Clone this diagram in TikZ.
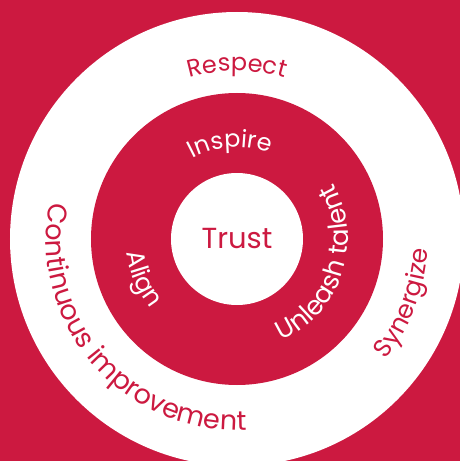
\documentclass[tikz,border=0pt]{standalone}
\usepackage{fontspec}
\setmainfont{Poppins}
\usepackage{tikz}
\usetikzlibrary{decorations.text}
\definecolor{crimson}{RGB}{204,25,64}
\newcommand{\ringfont}[1]{\fontsize{#1}{#1}\selectfont}

\begin{document}
\begin{tikzpicture}[x=1pt,y=1pt,
    every circle node/.style={inner sep=0pt, outer sep=0pt},
    ringtext/.style={decorate, decoration={text along path, text align=center, text={#1}}}]
        \fill[crimson] (-237,-222) rectangle (223,239);
        \useasboundingbox (-237,-222) rectangle (223,239);
        \draw (0, 0) node(outer)[circle, fill=white, minimum size=454pt]{};
        \draw (0, 0) node(inner)[circle, fill=crimson, minimum size=292pt]{};
        \draw (0, 0) node(core)[circle, fill=white, minimum size=132pt, text=crimson, font=\fontsize{29}{32}\selectfont]{Trust};
        % outer ring
        \path[ringtext={|\ringfont{24}\color{crimson}|Respect}] (150:168) arc[start angle=150, end angle=30, radius=168];
        \path[ringtext={|\ringfont{27}\color{crimson}|Continuous improvement}] (140:191) arc[start angle=140, end angle=302, radius=191];
        \path[ringtext={|\ringfont{25}\color{crimson}|Synergize}] (-60:191) arc[start angle=-60, end angle=18, radius=191];
        % inner ring
        \path[ringtext={|\ringfont{24}\color{white}|Inspire}] (154:92) arc[start angle=154, end angle=34, radius=92];
        \path[ringtext={|\ringfont{26}\color{white}|Unleash talent}] (-88:111) arc[start angle=-88, end angle=52, radius=111];
        \path[ringtext={|\ringfont{25}\color{white}|Align}] (140:111) arc[start angle=140, end angle=266, radius=111];
    \end{tikzpicture}
\end{document}
